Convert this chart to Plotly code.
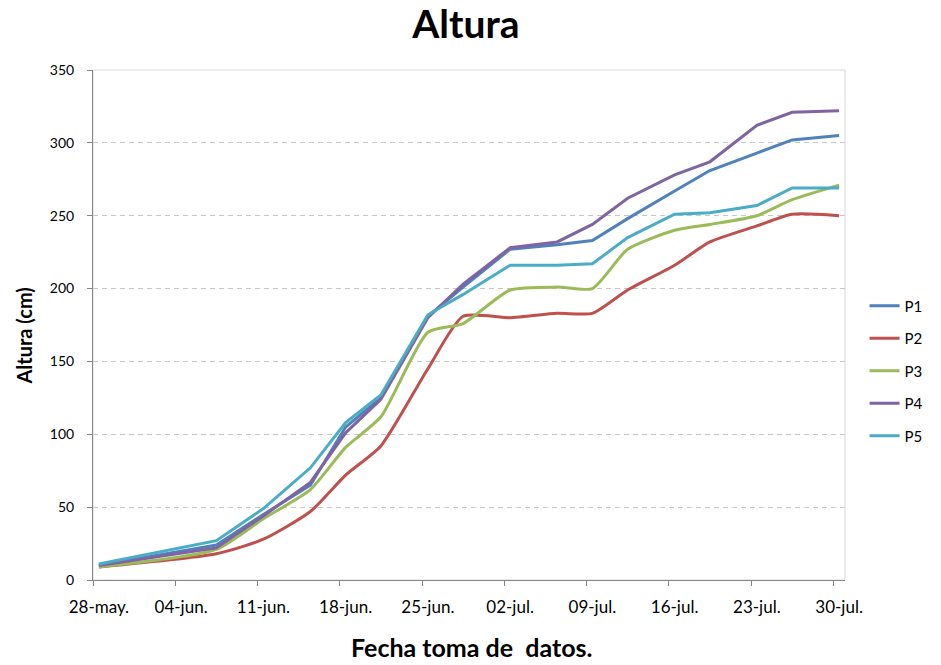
import plotly.graph_objects as go
import pandas as pd

# ---- data ----
dates = ["2023-05-28", "2023-06-07", "2023-06-11", "2023-06-15", "2023-06-18",
         "2023-06-21", "2023-06-25", "2023-06-28", "2023-07-02", "2023-07-06",
         "2023-07-09", "2023-07-12", "2023-07-16", "2023-07-19", "2023-07-23",
         "2023-07-26", "2023-07-30"]
P1 = [10, 24, 45, 65, 105, 125, 181, 201, 227, 230, 233, 248, 267, 281, 293, 302, 305]
P2 = [9, 18, 28, 47, 72, 92, 145, 181, 180, 183, 183, 199, 216, 232, 243, 251, 250]
P3 = [9, 21, 42, 62, 91, 112, 170, 176, 199, 201, 200, 227, 240, 244, 250, 261, 271]
P4 = [10, 22, 44, 67, 101, 124, 180, 203, 228, 232, 244, 262, 278, 287, 312, 321, 322]
P5 = [11, 27, 49, 77, 108, 127, 182, 196, 216, 216, 217, 235, 251, 252, 257, 269, 269]

series_names = ["P1", "P2", "P3", "P4", "P5"]
series_values = [P1, P2, P3, P4, P5]
colors = ["#4F81BD", "#C0504D", "#9BBB59", "#8064A2", "#4BACC6"]
smoothed = [False, True, True, False, False]

tick_dates = ["2023-05-28", "2023-06-04", "2023-06-11", "2023-06-18", "2023-06-25",
              "2023-07-02", "2023-07-09", "2023-07-16", "2023-07-23", "2023-07-30"]
tick_labels = ["28-may.", "04-jun.", "11-jun.", "18-jun.", "25-jun.",
               "02-jul.", "09-jul.", "16-jul.", "23-jul.", "30-jul."]

FONT = "Lato, 'Open Sans', sans-serif"

x = pd.to_datetime(dates)
fig = go.Figure()
for name, vals, col, sm in zip(series_names, series_values, colors, smoothed):
    line = dict(color=col, width=3)
    if sm:
        line.update(shape="spline", smoothing=0.6)
    fig.add_trace(go.Scatter(x=x, y=vals, mode="lines", name=name, line=line,
                             legendgroup=name))

half_day = pd.Timedelta(hours=12)
x_start = pd.Timestamp(tick_dates[0]) - half_day
x_end = pd.Timestamp(tick_dates[-1]) + half_day

fig.update_layout(
    width=941, height=665,
    margin=dict(l=93, r=90, t=70, b=85),
    paper_bgcolor="white", plot_bgcolor="white",
    font=dict(family=FONT, color="black"),
    title=dict(text="<b>Altura</b>", x=466 / 941, xanchor="center",
               y=1 - 24 / 665, yanchor="middle", yref="container",
               font=dict(size=39, family=FONT, color="black")),
    showlegend=True,
    legend=dict(x=1.026, xanchor="left", y=0.41, yanchor="middle",
                font=dict(size=15, family=FONT, color="black"),
                tracegroupgap=10, bgcolor="rgba(0,0,0,0)"),
    xaxis=dict(
        type="date", range=[x_start, x_end],
        tickmode="array", tickvals=pd.to_datetime(tick_dates), ticktext=tick_labels,
        ticks="", showgrid=False, zeroline=False,
        showline=True, linecolor="#868686", linewidth=1,
        tickfont=dict(size=17, family=FONT, color="black"),
        ticklabelstandoff=12,
        minor=dict(ticks="outside", tickmode="linear", tick0=x_start,
                   dtick=7 * 86400000, ticklen=5, tickcolor="#868686",
                   showgrid=False),
    ),
    yaxis=dict(
        range=[0, 350], tickmode="linear", tick0=0, dtick=50,
        ticks="outside", ticklen=5, tickcolor="#868686",
        showgrid=True, gridcolor="#C8C8C8", griddash="5px,4px", gridwidth=1,
        zeroline=False, showline=True, linecolor="#868686", linewidth=1,
        tickfont=dict(size=14, family=FONT, color="black"),
        ticklabelstandoff=10,
    ),
)

fig.add_shape(type="rect", xref="paper", yref="paper", x0=0, x1=1, y0=0, y1=1,
              line=dict(color="#D9D9D9", width=1), layer="below")

fig.add_annotation(text="<b>Altura (cm)</b>", xref="paper", yref="paper",
                   x=(23 - 93) / 758, y=(580 - 336) / 510, textangle=-90,
                   showarrow=False, xanchor="center", yanchor="middle",
                   font=dict(size=20, family=FONT, color="black"))
fig.add_annotation(text="<b>Fecha toma de\u00a0\u00a0datos.</b>", xref="paper", yref="paper",
                   x=(475 - 93) / 758, y=(580 - 647) / 510,
                   showarrow=False, xanchor="center", yanchor="middle",
                   font=dict(size=25, family=FONT, color="black"))

fig.write_html("out.html", config={"displayModeBar": False},
               post_script="document.body.style.margin='0px';")
